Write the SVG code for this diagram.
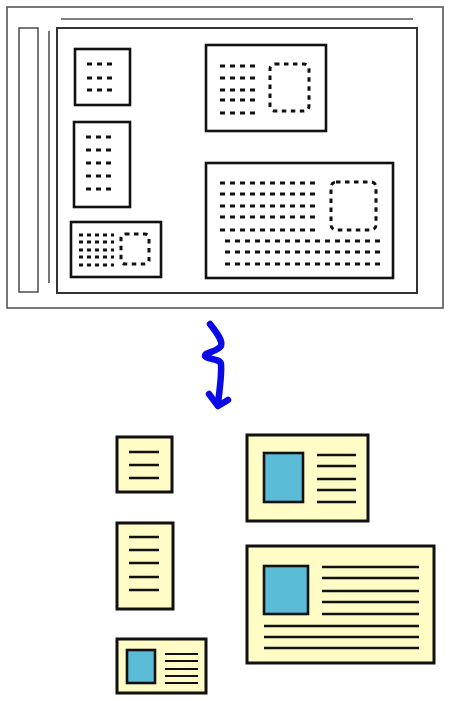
<svg xmlns="http://www.w3.org/2000/svg" width="451" height="701" viewBox="0 0 451 701">
<style>
.frame{fill:#fff;stroke:#555;stroke-width:1.6}
.inner{fill:none;stroke:#333;stroke-width:2}
.thin{fill:none;stroke:#555;stroke-width:1.6}
.doc{fill:#fff;stroke:#111;stroke-width:2.6}
.dot{fill:none;stroke:#111;stroke-width:3;stroke-dasharray:5 5}
.pic{fill:none;stroke:#111;stroke-width:3;stroke-dasharray:4.5 4.5;}
.card{fill:#fffcc6;stroke:#111;stroke-width:3}
.photo{fill:#5bbcd8;stroke:#111;stroke-width:2.6}
.ln{stroke:#111;stroke-width:2.6}
.arrow{fill:none;stroke:#0a0ae6;stroke-width:6.5;stroke-linecap:round;stroke-linejoin:round}
</style>
<rect width="451" height="701" fill="#fff"/>
<g id="scanner">
<rect class="frame" x="7" y="7" width="436" height="301"/>
<line class="thin" x1="61" y1="19" x2="413" y2="19"/>
<rect class="thin" x="19" y="28" width="19" height="264"/>
<line class="thin" x1="49" y1="31" x2="49" y2="283"/>
<rect class="inner" x="57" y="28" width="360" height="265"/>
</g>
<g id="doc1">
<rect class="doc" x="75" y="49" width="55" height="56"/>
<path class="dot" d="M87 64H113M87 78H113M87 90H113"/>
</g>
<g id="doc2">
<rect class="doc" x="74" y="122" width="56" height="85"/>
<path class="dot" d="M86 137H112M86 150H112M86 163H112M86 176H112M86 189H112"/>
</g>
<g id="doc3">
<rect class="doc" x="71" y="222" width="90" height="55"/>
<path class="dot" style="stroke-dasharray:4 4" d="M79 235H114M79 242H114M79 250H114M79 257H114M79 265H114"/>
<rect class="pic" x="121" y="234" width="28" height="30" rx="4"/>
</g>
<g id="doc4">
<rect class="doc" x="206" y="45" width="120" height="86"/>
<path class="dot" d="M220 66H258M220 78H258M220 90H258M220 100H258M220 113H258"/>
<rect class="pic" x="270" y="64" width="39" height="47" rx="5"/>
</g>
<g id="doc5">
<rect class="doc" x="206" y="163" width="187" height="115"/>
<path class="dot" d="M220 183H320M220 194H320M220 206H320M220 217H320M220 230H320"/>
<rect class="pic" x="331" y="182" width="45" height="48" rx="5"/>
<path class="dot" d="M225 241H380M225 252H380M225 264H380"/>
</g>
<g id="connectors">
<path class="arrow" d="M210 324C216 332 223 340 221 346C217 352 205 352 205 356C207 360 220 358 221 364C222 376 219 392 218 405"/>
<path class="arrow" d="M209 394L218 406L228 400"/>
</g>
<g id="cardA">
<rect class="card" x="117" y="437" width="55" height="55"/>
<path class="ln" d="M129 452H159M129 465H159M129 478H159"/>
</g>
<g id="cardB">
<rect class="card" x="117" y="523" width="56" height="86"/>
<path class="ln" d="M129 537H159M129 550H159M129 563H159M129 577H159M129 590H159"/>
</g>
<g id="cardC">
<rect class="card" x="117" y="639" width="89" height="54"/>
<rect class="photo" x="127" y="650" width="28" height="33"/>
<path class="ln" style="stroke-width:2.2" d="M165 654H198M165 661H198M165 669H198M165 676H198M165 683H198"/>
</g>
<g id="cardD">
<rect class="card" x="247" y="435" width="121" height="86"/>
<rect class="photo" x="264" y="453" width="39" height="49"/>
<path class="ln" d="M317 455H356M317 466H356M317 479H356M317 490H356M317 502H356"/>
</g>
<g id="cardE">
<rect class="card" x="247" y="546" width="187" height="117"/>
<rect class="photo" x="264" y="566" width="44" height="48"/>
<path class="ln" d="M322 567H419M322 578H419M322 591H419M322 602H419M322 614H419M264 626H419M264 637H419M264 648H419"/>
</g>
</svg>
